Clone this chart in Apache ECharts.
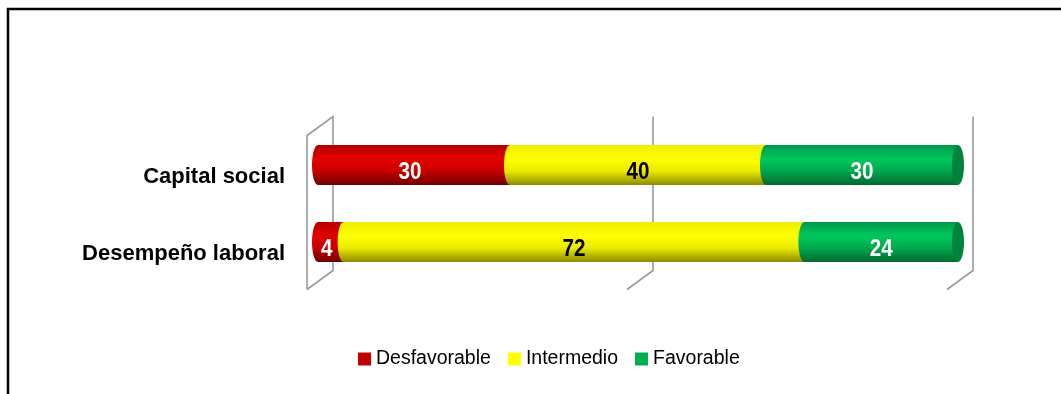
<!DOCTYPE html>
<html>
<head>
<meta charset="utf-8">
<script src="https://cdn.jsdelivr.net/npm/echarts@6/dist/echarts.min.js"></script>
<style>
  html, body { margin: 0; padding: 0; background: #fff; }
  #chart { width: 1061px; height: 394px; }
</style>
</head>
<body>
<div id="chart"></div>
<script>
// Categories (top to bottom) and percentage of each rating
const categories = ['Capital social', 'Desempeño laboral'];
const seriesNames = ['Desfavorable', 'Intermedio', 'Favorable'];
const desfavorable = [30, 4];
const intermedio = [40, 72];
const favorable = [30, 24];
const wallTicks = [0, 50, 100];

const baseFont = '"Liberation Sans", Arial, sans-serif';

// Cylinder shading per series: body gradient, end-cap colour, label colour
const palette = [
  { legend: '#c00000', stops: ['#b40000', '#e30000', '#c80000', '#6e0000'], cap: '#a00000', text: '#ffffff' },
  { legend: '#ffff00', stops: ['#eeee00', '#ffff00', '#eaea00', '#8c8c00'], cap: '#d8d800', text: '#000000' },
  { legend: '#00b050', stops: ['#00984a', '#00c85c', '#00a84e', '#006a30'], cap: '#00843c', text: '#ffffff' }
];

const valueSets = [desfavorable, intermedio, favorable];

// Stacked start/end for each segment: [start, end, categoryIndex, value]
function buildSegments(k) {
  return categories.map((c, i) => {
    let start = 0;
    for (let j = 0; j < k; j++) start += valueSets[j][i];
    return [start, start + valueSets[k][i], i, valueSets[k][i]];
  });
}

function gradient(stops) {
  return new echarts.graphic.LinearGradient(0, 0, 0, 1, [
    { offset: 0, color: stops[0] },
    { offset: 0.35, color: stops[1] },
    { offset: 0.65, color: stops[2] },
    { offset: 1, color: stops[3] }
  ]);
}

const BAR_H = 40;
const CAP_RX = 6;

function cylinderRender(k) {
  const pal = palette[k];
  const isLast = k === valueSets.length - 1;
  return function (params, api) {
    const start = api.value(0), end = api.value(1), cat = api.value(2), val = api.value(3);
    const p0 = api.coord([start, cat]);
    const p1 = api.coord([end, cat]);
    const cy = p0[1];
    const top = cy - BAR_H / 2;
    const fill = gradient(pal.stops);
    const children = [
      { type: 'ellipse', shape: { cx: p0[0], cy: cy, rx: CAP_RX, ry: BAR_H / 2 }, style: { fill: fill } },
      { type: 'rect', shape: { x: p0[0], y: top, width: p1[0] - p0[0], height: BAR_H }, style: { fill: fill } }
    ];
    if (isLast) {
      children.push({ type: 'ellipse', shape: { cx: p1[0], cy: cy, rx: CAP_RX, ry: BAR_H / 2 }, style: { fill: pal.cap } });
    }
    const lx = (p0[0] + p1[0]) / 2 - (start === 0 ? 4 : 0);
    const ly = cy + 7;
    children.push({
      type: 'text',
      x: lx, y: ly,
      scaleX: 0.86,
      style: {
        text: String(val),
        x: 0, y: 0,
        align: 'center',
        verticalAlign: 'middle',
        fill: pal.text,
        font: 'bold 24px ' + baseFont
      }
    });
    return { type: 'group', children: children };
  };
}

// Back wall and floor lines of the 3-D plot area
const WALL_DX = 15, WALL_TOP = -10, WALL_BOTTOM = -10, DEPTH_X = -26, DEPTH_Y = 19;
function wallRender(params, api) {
  const cs = params.coordSys;
  const tick = api.value(0);
  const bx = api.coord([tick, 0])[0] + WALL_DX;
  const yTop = cs.y + WALL_TOP;
  const yBot = cs.y + cs.height + WALL_BOTTOM;
  const line = { stroke: '#9a9a9a', lineWidth: 1.6, fill: null };
  const pts = tick === wallTicks[0]
    ? [[bx + DEPTH_X, yBot + DEPTH_Y], [bx + DEPTH_X, yTop + DEPTH_Y], [bx, yTop], [bx, yBot], [bx + DEPTH_X, yBot + DEPTH_Y]]
    : [[bx, yTop], [bx, yBot], [bx + DEPTH_X, yBot + DEPTH_Y]];
  return { type: 'polyline', shape: { points: pts }, style: line };
}

const series = [{
  type: 'custom',
  name: 'wall',
  renderItem: wallRender,
  data: wallTicks.map(t => [t]),
  encode: { x: 0 },
  silent: true,
  z: 1
}];
seriesNames.forEach((name, k) => {
  series.push({
    type: 'custom',
    name: name,
    renderItem: cylinderRender(k),
    data: buildSegments(k),
    encode: { x: [0, 1], y: 2 },
    itemStyle: { color: palette[k].legend },
    z: 2 + k
  });
});

const chart = echarts.init(document.getElementById('chart'), null, { renderer: 'canvas' });
chart.setOption({
  animation: false,
  backgroundColor: '#ffffff',
  graphic: [{
    type: 'rect',
    shape: { x: 8, y: 9, width: 1200, height: 600 },
    style: { fill: null, stroke: '#000000', lineWidth: 2.5 },
    silent: true
  }],
  grid: { left: 318, right: 103, top: 126.5, bottom: 113.5 },
  xAxis: {
    type: 'value', min: 0, max: 100, interval: 50,
    show: false
  },
  yAxis: {
    type: 'category',
    data: categories,
    inverse: true,
    axisLine: { show: false },
    axisTick: { show: false },
    axisLabel: {
      margin: 33, color: '#000', fontWeight: 'bold', fontSize: 22, fontFamily: baseFont,
      verticalAlign: 'top', lineHeight: 24
    }
  },
  legend: {
    data: seriesNames,
    left: 353,
    top: 344,
    icon: 'rect',
    itemWidth: 13,
    itemHeight: 13,
    itemGap: 17,
    textStyle: { fontSize: 19.5, color: '#000', fontFamily: baseFont }
  },
  series: series
});
</script>
</body>
</html>
